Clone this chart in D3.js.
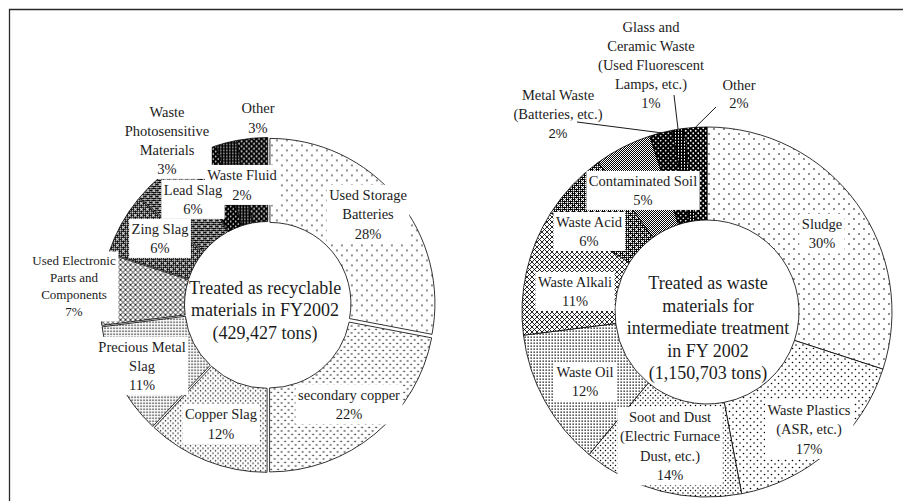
<!DOCTYPE html>
<html>
<head>
<meta charset="utf-8">
<script src="https://cdn.jsdelivr.net/npm/d3@7"></script>
<style>
  html, body { margin: 0; padding: 0; background: #fff; }
  svg { display: block; }
</style>
</head>
<body>
<svg id="chart" width="903" height="501"></svg>
<script>
// Recyclable materials treated in FY2002 (shares of 429,427 tons), clockwise from 12 o'clock
const recycleCategories = [
  "Used Storage Batteries", "secondary copper", "Copper Slag", "Precious Metal Slag",
  "Used Electronic Parts and Components", "Zing Slag", "Lead Slag",
  "Waste Photosensitive Materials", "Waste Fluid", "Other"
];
const recycleShares = [28, 22, 12, 11, 7, 6, 6, 3, 2, 3];
const recycleLabelLines = [
  ["Used Storage", "Batteries"], ["secondary copper"], ["Copper Slag"], ["Precious Metal", "Slag"],
  ["Used Electronic", "Parts and", "Components"], ["Zing Slag"], ["Lead Slag"],
  ["Waste", "Photosensitive", "Materials"], ["Waste Fluid"], ["Other"]
];
const recycleTitle = ["Treated as recyclable", "materials in FY2002", "(429,427 tons)"];

// Waste materials sent to intermediate treatment in FY2002 (shares of 1,150,703 tons)
const wasteCategories = [
  "Sludge", "Waste Plastics (ASR, etc.)", "Soot and Dust (Electric Furnace Dust, etc.)",
  "Waste Oil", "Waste Alkali", "Waste Acid", "Contaminated Soil",
  "Metal Waste (Batteries, etc.)", "Glass and Ceramic Waste (Used Fluorescent Lamps, etc.)", "Other"
];
const wasteShares = [30, 17, 14, 12, 11, 6, 5, 2, 1, 2];
const wasteLabelLines = [
  ["Sludge"], ["Waste Plastics", "(ASR, etc.)"], ["Soot and Dust", "(Electric Furnace", "Dust, etc.)"],
  ["Waste Oil"], ["Waste Alkali"], ["Waste Acid"], ["Contaminated Soil"],
  ["Metal Waste", "(Batteries, etc.)"], ["Glass and", "Ceramic Waste", "(Used Fluorescent", "Lamps, etc.)"], ["Other"]
];
const wasteTitle = ["Treated as waste", "materials for", "intermediate treatment", "in FY 2002", "(1,150,703 tons)"];

const SERIF = "'Liberation Serif', 'Times New Roman', Times, serif";
const SANS = "'Liberation Sans', Arial, sans-serif";
const INK = "#1c1c1c";

const svg = d3.select("#chart");
svg.append("rect").attr("width", 903).attr("height", 501).attr("fill", "#fff");

// ---- fill patterns -------------------------------------------------------
const defs = svg.append("defs");
function pattern(id, w, h, draw, bg) {
  const p = defs.append("pattern").attr("id", id)
    .attr("patternUnits", "userSpaceOnUse").attr("width", w).attr("height", h);
  p.append("rect").attr("width", w).attr("height", h).attr("fill", bg || "#fff");
  draw(p);
}
const dot = (p, x, y, r, c) => p.append("circle").attr("cx", x).attr("cy", y).attr("r", r).attr("fill", c || "#000");
const sq = (p, x, y, w, h, c) => p.append("rect").attr("x", x).attr("y", y).attr("width", w).attr("height", h).attr("fill", c || "#000");

pattern("dotsSparse", 10, 10, p => { dot(p, 2, 2, 0.8); dot(p, 7, 7, 0.8); });
pattern("dotsMedium", 7, 7, p => { dot(p, 1.5, 1.5, 0.8); dot(p, 5, 5, 0.8); });
pattern("dotsDense", 5, 5, p => { dot(p, 1, 1, 0.75); dot(p, 3.5, 3.5, 0.75); });
pattern("dotsFine", 3, 3, p => { sq(p, 0.5, 0.5, 1.3, 1.3); });
pattern("crossHatch", 5, 5, p => {
  p.append("path").attr("d", "M0,0L5,5M5,0L0,5M-1,4L1,6M4,-1L6,1M-1,1L1,-1M4,6L6,4")
    .attr("stroke", "#000").attr("stroke-width", 0.85);
});
pattern("checker", 2, 2, p => { sq(p, 0, 0, 1, 1); sq(p, 1, 1, 1, 1); });
pattern("checkerDots", 6, 6, p => {
  for (let i = 0; i < 6; i++) for (let j = 0; j < 6; j++) if (i % 2 === 0 && j % 2 === 0) sq(p, i, j, 1, 1, "#fff");
  dot(p, 1.5, 1.5, 1.0, "#fff"); dot(p, 4.5, 4.5, 1.0, "#fff");
}, "#000");
pattern("blackCross", 5, 5, p => {
  p.append("path").attr("d", "M1.25,0.25L2.25,1.25L1.25,2.25L0.25,1.25ZM3.75,2.75L4.75,3.75L3.75,4.75L2.75,3.75Z").attr("fill", "#fff");
}, "#000");
pattern("stripes", 3, 3, p => { sq(p, 1, 0, 1, 1.6, "#fff"); }, "#000");
pattern("blackDots", 5, 5, p => { dot(p, 1.25, 1.25, 0.9, "#fff"); dot(p, 3.75, 3.75, 0.9, "#fff"); }, "#000");

// ---- frame ---------------------------------------------------------------
svg.append("path").attr("d", "M9.5,501V9.5H903")
  .attr("fill", "none").attr("stroke", "#2a2a2a").attr("stroke-width", 1.3);

// ---- donut layouts -------------------------------------------------------
const recycleLayout = {
  cx: 268, cy: 305, rOuter: 165, rInner: 81, explode: 2.5,
  fills: ["dotsSparse", "dotsMedium", "dotsDense", "dotsFine", "crossHatch",
          "checkerDots", "checkerDots", "blackCross", "stripes", "blackDots"],
  title: { dx: -3, dy: 5 },
  labels: [
    { dx: 100, dy: -110, gap: 19.5 },
    { dx: 81, dy: 90, gap: 19.5 },
    { dx: -47, dy: 109, gap: 20 },
    { dx: -126, dy: 42, gap: 19 },
    { dx: -194, dy: -44, gap: 17, size: 13 },
    { dx: -108, dy: -76, gap: 19 },
    { dx: -75, dy: -115, gap: 19 },
    { dx: -101, dy: -193, gap: 19 },
    { dx: -26, dy: -130, gap: 20 },
    { dx: -10, dy: -197, gap: 20, boxed: false }
  ]
};

const wasteLayout = {
  cx: 707, cy: 312, rOuter: 185, rInner: 92, explode: 0,
  fills: ["dotsSparse", "dotsMedium", "dotsDense", "dotsFine", "crossHatch",
          "checkerDots", "checker", "blackCross", "stripes", "blackDots"],
  title: { dx: 1, dy: 16 },
  labels: [
    { dx: 115, dy: -88, gap: 19.5 },
    { dx: 102, dy: 98, gap: 19.5 },
    { dx: -37, dy: 105, gap: 19.5 },
    { dx: -122, dy: 60, gap: 19 },
    { dx: -132, dy: -30, gap: 19 },
    { dx: -118, dy: -90, gap: 19 },
    { dx: -64, dy: -131, gap: 19 },
    { dx: -149, dy: -217, gap: 19, boxed: false, leader: [-130, -190], pctFont: SANS },
    { dx: -56, dy: -285, gap: 19, boxed: false, leader: [-33, -217] },
    { dx: 32, dy: -227, gap: 18.5, boxed: false, leader: [9, -205] }
  ]
};

function drawDonut(categories, shares, labelLines, title, L) {
  const g = svg.append("g").attr("transform", `translate(${L.cx},${L.cy})`);
  const pie = d3.pie().sort(null).value(d => d)(shares);
  const arc = d3.arc().innerRadius(L.rInner).outerRadius(L.rOuter);
  const mid = d => (d.startAngle + d.endAngle) / 2;

  // slices, each pushed slightly outward along its bisector
  g.selectAll("path.slice").data(pie).join("path")
    .attr("class", "slice")
    .attr("d", arc)
    .attr("transform", d => `translate(${L.explode * Math.sin(mid(d))},${-L.explode * Math.cos(mid(d))})`)
    .attr("fill", (d, i) => `url(#${L.fills[i]})`)
    .attr("stroke", "#000").attr("stroke-width", 0.8)
    .append("title").text((d, i) => `${categories[i]}: ${shares[i]}%`);

  const plateLayer = g.append("g");
  const textLayer = g.append("g");
  const lineLayer = g.append("g");

  // labels: text first, then a white plate sized to each text block underneath
  pie.forEach((d, i) => {
    const cfg = L.labels[i];
    const size = cfg.size || 14.5;
    const text = textLayer.append("text").attr("text-anchor", "middle")
      .attr("font-family", SERIF).attr("font-size", size).attr("fill", INK);
    const lines = labelLines[i].concat([`${shares[i]}%`]);
    lines.forEach((s, k) => {
      const t = text.append("tspan").attr("x", cfg.dx)
        .attr("y", cfg.dy + k * cfg.gap + size * 0.34).text(s);
      if (k === lines.length - 1 && cfg.pctFont) t.attr("font-family", cfg.pctFont).attr("font-size", 13);
    });
    if (cfg.boxed !== false) {
      const b = text.node().getBBox();
      plateLayer.append("rect")
        .attr("x", b.x - 2.5).attr("y", b.y - 2).attr("width", b.width + 5).attr("height", b.height + 4)
        .attr("fill", "#fff");
    }
    if (cfg.leader) {
      const a = mid(d), r = L.rOuter;
      lineLayer.append("line")
        .attr("x1", cfg.leader[0]).attr("y1", cfg.leader[1])
        .attr("x2", r * Math.sin(a)).attr("y2", -r * Math.cos(a))
        .attr("stroke", "#000").attr("stroke-width", 0.9);
    }
  });

  // title in the hole
  const tt = g.append("text").attr("text-anchor", "middle")
    .attr("font-family", SERIF).attr("font-size", 18).attr("fill", INK);
  const n = title.length, gap = 22.5;
  title.forEach((s, k) => {
    tt.append("tspan").attr("x", L.title.dx)
      .attr("y", L.title.dy + (k - (n - 1) / 2) * gap + 18 * 0.34).text(s);
  });
}

drawDonut(recycleCategories, recycleShares, recycleLabelLines, recycleTitle, recycleLayout);
drawDonut(wasteCategories, wasteShares, wasteLabelLines, wasteTitle, wasteLayout);
</script>
</body>
</html>
